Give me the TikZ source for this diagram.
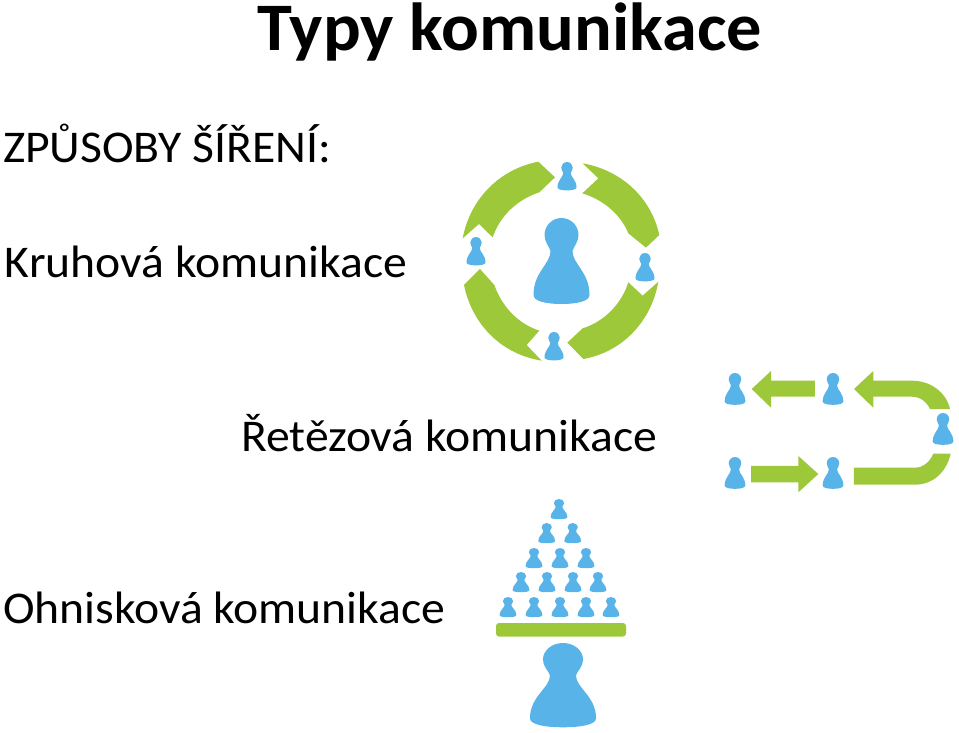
\documentclass[tikz,border=0pt]{standalone}
\usepackage{fontspec}
\setmainfont[FakeStretch=1.05,BoldFeatures={FakeStretch=1.035}]{Carlito}
\definecolor{leaf}{HTML}{9DC83A}
\definecolor{sky}{HTML}{58B4E8}
\newcommand{\pawnfig}[4]{\fill[sky,shift={(#1,#2)},xscale=#3,yscale=#4]
 (0,0) .. controls (9.4,0) and (17,7.6) .. (17,17)
 .. controls (17,24) and (12,29) .. (11,33)
 .. controls (11,46) and (28,54) .. (28,77)
 .. controls (28,83) and (16,86) .. (0,86)
 .. controls (-16,86) and (-28,83) .. (-28,77)
 .. controls (-28,54) and (-11,46) .. (-11,33)
 .. controls (-12,29) and (-17,24) .. (-17,17)
 .. controls (-17,7.6) and (-9.4,0) .. (0,0) -- cycle;}
\tikzset{label text/.style={anchor=base west,inner sep=0pt,outer sep=0pt,font=\fontsize{45.4}{50}\selectfont,text=black},
 title text/.style={anchor=base west,inner sep=0pt,outer sep=0pt,font=\fontsize{68}{72}\selectfont\bfseries,text=black},
 arrowfill/.style={fill=leaf}}
\begin{document}
\begin{tikzpicture}[x=1pt,y=-1pt]
\useasboundingbox (0,0) rectangle (959,732);
\node[title text] (title) at (257,50.5) {Typy komunikace};
\node[label text] (ways) at (3,162) {ZPŮSOBY ŠÍŘENÍ:};
\node[label text] (ring) at (5,277) {Kruhová komunikace};
\node[label text] (chain) at (241,451) {Řetězová komunikace};
\node[label text] (focus) at (3,623) {Ohnisková komunikace};
% ring
\begin{scope}[shift={(450,150)},x=0.3333pt,y=-0.3333pt]
\fill[arrowfill] (38,265) .. controls (60,148) and (147,58) .. (265,35) -- (315,82) -- (268,127)
 .. controls (203,148) and (150,197) .. (128,262) -- (87,222) -- cycle;
\fill[arrowfill] (398,40) .. controls (512,60) and (603,141) .. (628,255) -- (588,293) -- (535,250)
 .. controls (511,191) and (457,148) .. (397,130) -- (445,85) -- cycle;
\fill[arrowfill] (625,395) .. controls (605,512) and (519,606) .. (400,627) -- (352,578) -- (398,535)
 .. controls (463,515) and (515,461) .. (535,397) -- (578,437) -- cycle;
\fill[arrowfill] (275,632) .. controls (154,613) and (66,523) .. (42,405) -- (90,357) -- (133,405)
 .. controls (155,468) and (203,521) .. (268,542) -- (230,585) -- cycle;
\end{scope}
\pawnfig{561.5}{218}{1}{1}
\pawnfig{567}{162}{.34}{.33}
\pawnfig{645}{253}{.34}{.33}
\pawnfig{476}{237}{.34}{.33}
\pawnfig{554}{332}{.34}{.33}
% chain
\begin{scope}[shift={(715,360)},x=0.3333pt,y=-0.3333pt]
\fill[arrowfill] (110,87) -- (168,33) -- (168,62) -- (300,62) -- (300,110) -- (168,110) -- (168,143) -- cycle;
\fill[arrowfill] (417,87) -- (475,33) -- (475,62) -- (590,62) .. controls (650,62) and (695,100) .. (705,147) -- (645,147)
 .. controls (635,125) and (615,110) .. (590,110) -- (475,110) -- (475,143) -- cycle;
\fill[arrowfill] (108,318) -- (250,318) -- (250,288) -- (310,342) -- (250,397) -- (250,367) -- (108,367) -- cycle;
\fill[arrowfill] (417,323) -- (600,323) .. controls (625,323) and (645,305) .. (655,281) -- (707,281)
 .. controls (695,335) and (655,374) .. (600,374) -- (417,374) -- cycle;
\end{scope}
\pawnfig{735}{373}{.37}{.37}
\pawnfig{833}{373}{.37}{.37}
\pawnfig{943}{413}{.37}{.37}
\pawnfig{735}{457}{.37}{.37}
\pawnfig{833}{457}{.37}{.37}
% pyramid
\foreach \px/\py in {559/499,546.7/523,572.7/523,534/548,560/548,586/548,521/572,547/572,573/572,598/572,508/597,534/597,560/597,586/597,611/597}{
 \pawnfig{\px}{\py}{.3}{.235}
}
\fill[leaf,rounded corners=3pt] (496,623) rectangle (626,636.5);
\pawnfig{563}{643}{1.18}{.98}
\end{tikzpicture}
\end{document}
